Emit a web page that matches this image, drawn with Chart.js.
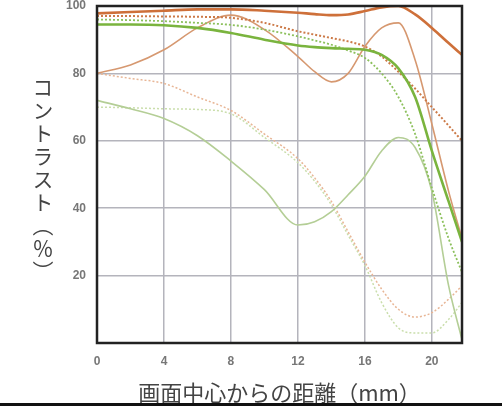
<!DOCTYPE html>
<html>
<head>
<meta charset="utf-8">
<script src="https://cdn.jsdelivr.net/npm/chart.js@4"></script>
<style>
  html, body { margin: 0; padding: 0; background: #fff; }
  #wrap { position: relative; width: 502px; height: 406px; overflow: hidden; }
  #yTitle {
    position: absolute; left: 32px; top: 77px;
    writing-mode: vertical-rl;
    font: 21px "Noto Sans CJK JP", sans-serif; color: #444;
    line-height: 1; letter-spacing: 2px;
  }
</style>
</head>
<body>
<div id="wrap">
  <canvas id="mtf" width="502" height="406"></canvas>
  <div id="yTitle">コントラスト（％）</div>
</div>
<script>
// distance from image centre (mm)
const xs = [0, 2, 4, 6, 8, 10, 12, 13, 14, 15, 16, 17, 18, 19, 20, 21, 21.8];
const xTicks = [0, 4, 8, 12, 16, 20];
const yTicks = [0, 20, 40, 60, 80, 100];

// contrast (%)
const orangeThick  = [97.8, 98.2, 98.6, 99, 99, 98.6, 98, 97.6, 97.3, 97.5, 98.5, 99.6, 100, 97.5, 93.5, 89, 85.5];
const orangeDot    = [97, 97, 96.9, 96.8, 96.5, 95, 92.5, 91.5, 90.5, 89.5, 88, 85, 80.5, 75.5, 70, 64.5, 60];
const orangeThin   = [80, 82.5, 87, 93.5, 97.3, 93, 85, 80.5, 77.5, 80, 88, 93.5, 95, 84, 65, 45, 31];
const greenThick   = [94.5, 94.5, 94.3, 93.5, 92, 90, 88.3, 87.8, 87.5, 87.3, 87, 85.5, 81.5, 73, 57, 42, 30];
const greenDot     = [96, 95.8, 95.5, 95, 94.4, 93, 91, 89.8, 88.5, 86.8, 84.6, 80, 73, 62, 46, 31, 21];
const paleOrgDot   = [80, 78.5, 77, 73, 69, 62, 54.7, 49, 42, 33, 24, 16, 10, 7.7, 9, 13, 17];
const paleGrnSolid = [72, 69.5, 66.6, 61.5, 54, 45.5, 35, 36, 39, 44, 49.5, 57, 61, 58, 45, 17, 1];
const paleGrnDot   = [70, 69.8, 69.5, 69.3, 68, 61, 53.5, 48, 41, 32, 23, 12, 4.5, 3, 3, 7, 12];

const pts = (ys) => xs.map((x, i) => ({ x, y: ys[i] }));

function line(data, color, width, dotted) {
  return {
    data: pts(data), borderColor: color, borderWidth: width,
    borderDash: dotted ? [2, 2] : [], pointRadius: 0,
    cubicInterpolationMode: "monotone", fill: false
  };
}

const frame = {
  id: "frame",
  afterDatasetsDraw(chart) {
    const { ctx, chartArea: a } = chart;
    ctx.save();
    ctx.strokeStyle = "#222"; ctx.lineWidth = 2.5;
    ctx.strokeRect(a.left, a.top, a.right - a.left, a.bottom - a.top);
    ctx.restore();
  },
  afterDraw(chart) {
    const ctx = chart.ctx;
    ctx.save(); ctx.fillStyle = "#111"; ctx.fillRect(0, 403, 502, 3); ctx.restore();
  }
};

new Chart(document.getElementById("mtf"), {
  type: "line",
  data: {
    datasets: [
      line(orangeThick,  "rgb(206,112,58)", 2.6, false),
      line(greenThick,   "rgb(122,180,62)", 2.6, false),
      line(orangeDot,    "rgb(204,122,72)", 2, true),
      line(greenDot,     "rgb(140,192,92)", 1.8, true),
      line(orangeThin,   "rgb(214,152,112)", 1.6, false),
      line(paleGrnSolid, "rgb(180,206,150)", 1.6, false),
      line(paleOrgDot,   "rgb(232,182,150)", 1.5, true),
      line(paleGrnDot,   "rgb(202,222,172)", 1.5, true)
    ]
  },
  options: {
    responsive: false, animation: false,
    layout: { padding: { top: 6, right: 40, left: 0, bottom: 0 } },
    plugins: { legend: { display: false }, tooltip: { enabled: false } },
    scales: {
      x: {
        type: "linear", min: 0, max: 21.8,
        afterBuildTicks: (s) => { s.ticks = xTicks.map(v => ({ value: v })); },
        afterFit: (s) => { s.height = 63; s.paddingLeft = 0; s.paddingRight = 0; },
        grid: { color: "rgb(180,180,188)", lineWidth: 1.5, drawTicks: false },
        border: { display: false },
        ticks: { padding: 11, color: "#777", font: { family: "Liberation Sans", size: 12, weight: "bold" } },
        title: {
          display: true, text: "画面中心からの距離（mm）", color: "#444",
          padding: { top: 0, bottom: 0 },
          font: { family: "Noto Sans CJK JP", size: 22 }
        }
      },
      y: {
        min: 0, max: 100,
        afterBuildTicks: (s) => { s.ticks = yTicks.map(v => ({ value: v })); },
        afterFit: (s) => { s.width = 97; s.paddingTop = 0; s.paddingBottom = 0; },
        grid: { color: "rgb(180,180,188)", lineWidth: 1.5, drawTicks: false },
        border: { display: false },
        ticks: {
          padding: 11, color: "#777",
          font: { family: "Liberation Sans", size: 12, weight: "bold" },
          callback: (v) => (v === 0 ? "" : v)
        }
      }
    }
  },
  plugins: [frame]
});
</script>
</body>
</html>
